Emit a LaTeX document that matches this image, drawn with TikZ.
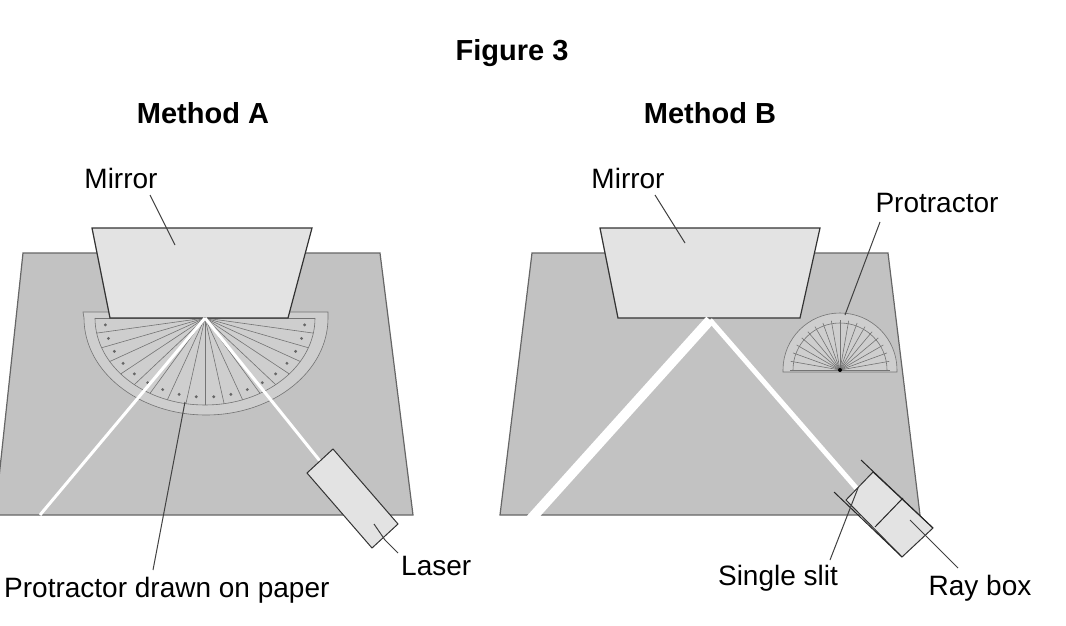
\documentclass[tikz,border=0pt]{standalone}
\usepackage{fontspec}
\setmainfont{Liberation Sans}
\usetikzlibrary{positioning}
\definecolor{paper}{gray}{0.76}
\definecolor{glass}{gray}{0.89}
\tikzset{
  paper/.style = {fill=paper, draw=black!60, line width=1.2pt},
  mirror/.style = {fill=glass, draw=black!80, line width=1.2pt},
  lbl/.style = {font=\fontsize{28}{32}\selectfont, inner sep=1pt},
  ttl/.style = {font=\bfseries\fontsize{29}{34}\selectfont},
  lead/.style = {draw=black!75, line width=1pt},
  ray/.style = {draw=white, line width=3pt},
  prot/.style = {draw=black!55, line width=0.6pt}
}
\begin{document}
\begin{tikzpicture}[x=1pt,y=-1pt]
\useasboundingbox (0,0) rectangle (1066,626);
\begin{scope}
\clip (0,0) rectangle (1066,626);
% titles
\node[ttl] (fig) at (512,53) {Figure 3};
\node[ttl] (tA) at (203,113) {Method A};
\node[ttl] (tB) at (710,113) {Method B};

%%% Method A
\draw[paper] (23,253) -- (380,253) -- (413,515) -- (-5,515) -- cycle;
\coordinate (oA) at (205,318);
% protractor drawn on paper
\draw[prot, fill=black!10, fill opacity=0.35] (83,312) -- (328,312) -- (328,318)
  arc[start angle=0, end angle=180, x radius=122, y radius=97] -- cycle;
\draw[prot] (oA) ++(0:110 and 87) arc[start angle=0, end angle=180, x radius=110, y radius=87];
\foreach \a in {0,10,...,180}
  \draw[prot] (oA) -- ++(\a:110 and 87);
\foreach \a in {5,15,...,175}
  \fill[black!60] (oA) ++(\a:100 and 79) circle (1.6pt);
\draw[mirror] (92,228) -- (312,228) -- (288,318) -- (110,318) -- cycle;
\coordinate (endA) at (40,515);
\coordinate (laserIn) at (320,461);
\draw[ray] (oA) -- (endA);
\draw[ray] (oA) -- (laserIn);
\draw[mirror, line width=1pt] (333,449) -- (398,524) -- (372,548) -- (307,473) -- cycle;
\coordinate (lasTip) at (374,524);
\draw[lead] (lasTip) -- (385,540) -- (398,553);
\node[lbl, anchor=west] (laser) at (400,566) {Laser};
\node[lbl, anchor=west] (protA) at (3,590) {Protractor drawn on paper};
\draw[lead] (153,570) -- (185,402);
\node[lbl] (mirA) at (121,178) {Mirror};
\draw[lead] (150,195) -- (175,245);

%%% Method B
\draw[paper] (532,253) -- (888,253) -- (920,515) -- (500,515) -- cycle;
\coordinate (oB) at (710,320);
\coordinate (oP) at (840,370);
\draw[prot, fill=black!10, fill opacity=0.35] (783,372) -- (897,372) -- (897,370)
  arc[start angle=0, end angle=-180, radius=57] -- cycle;
\foreach \a in {0,-10,...,-180}
  \draw[prot] (oP) -- ++(\a:50);
\draw[prot] (oP) ++(0:47) arc[start angle=0, end angle=-180, radius=47];
\fill (oP) circle (2pt);
\draw[mirror] (600,228) -- (820,228) -- (800,318) -- (618,318) -- cycle;
\draw[ray, line width=10pt] (oB) -- (530,520);
\draw[ray, line width=5pt] (oB) -- (858,490);
% ray box with slit
\draw[mirror, line width=1pt] (873,472) -- (933,528) -- (902,557) -- (846,500) -- cycle;
\draw[lead, draw=black!85] (861,460) -- (933,528);
\draw[lead, draw=black!85] (834,492) -- (902,557);
\draw[lead, draw=black!85] (903,498) -- (875,527);
\node[lbl] (slit) at (778,578) {Single slit};
\draw[lead] (830,560) -- (858,488);
\node[lbl] (raybox) at (980,588) {Ray box};
\draw[lead] (958,568) -- (910,520);
\node[lbl] (mirB) at (628,178) {Mirror};
\draw[lead] (655,195) -- (685,243);
\node[lbl] (protB) at (937,203) {Protractor};
\draw[lead] (880,222) -- (845,315);
\end{scope}
\end{tikzpicture}
\end{document}
